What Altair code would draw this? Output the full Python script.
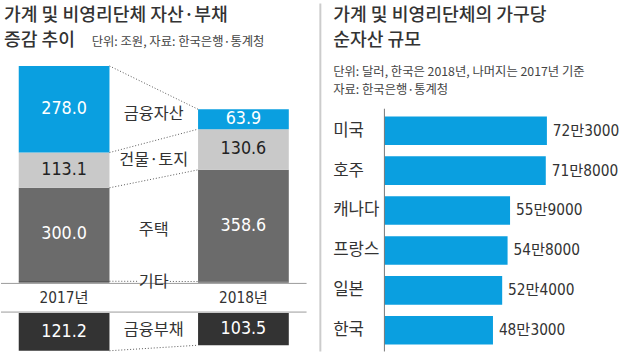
import altair as alt
import pandas as pd

# ---------------- data ----------------
years = ["2017년", "2018년"]
asset_cats = ["기타", "주택", "건물·토지", "금융자산"]          # bottom -> top
asset_2017 = [4.0, 300.0, 113.1, 278.0]
asset_2018 = [3.0, 358.6, 130.6, 63.9]
debt_label = "금융부채"
debt_vals = [121.2, 103.5]

countries = ["미국", "호주", "캐나다", "프랑스", "일본", "한국"]
net_assets = [723000, 718000, 559000, 548000, 524000, 483000]

left_title = ["가계 및 비영리단체 자산·부채", "증감 추이"]
left_sub = "단위: 조원, 자료: 한국은행·통계청"
right_title = ["가계 및 비영리단체의 가구당", "순자산 규모"]
right_sub = ["단위: 달러, 한국은 2018년, 나머지는 2017년 기준", "자료: 한국은행·통계청"]

# ---------------- styling ----------------
KR = "Noto Sans CJK KR"
NUM = "Liberation Sans Narrow, DejaVu Sans Condensed, Noto Sans CJK KR, sans-serif"
cat_color = {"기타": "#1a1a1a", "주택": "#6b6b6b", "건물·토지": "#c9c9c9", "금융자산": "#0a9fe0"}
txt_color = {"기타": "#ffffff", "주택": "#ffffff", "건물·토지": "#222222", "금융자산": "#ffffff"}
DEBT_COLOR = "#333333"

LW, LH = 310, 353          # left panel
RW, RH = 298, 353          # right panel
K = 0.316                  # px per 조원
BASE_PX = 283
GAP = 98                   # gap (in value units) between assets baseline and debt bars
BW = 0.253                 # half bar width in index units
ydom = [-(LH - BASE_PX) / K, BASE_PX / K]
xdom = [-0.352, 1.352]

xs = alt.Scale(domain=xdom, nice=False, zero=False)
ys = alt.Scale(domain=ydom, nice=False, zero=False)


def X(f, s):
    return alt.X(f, scale=s, axis=None)


def Y(f, s):
    return alt.Y(f, scale=s, axis=None)


def text_at(s, x, y, size, color, font=KR, weight="normal"):
    return alt.Chart(pd.DataFrame({"t": [s]})).mark_text(
        font=font, fontSize=size, color=color, align="left", baseline="alphabetic", fontWeight=weight
    ).encode(x=alt.value(x), y=alt.value(y), text="t:N")


# ---------------- left tables ----------------
rows = []
for i, (yr, vals) in enumerate(zip(years, [asset_2017, asset_2018])):
    c = 0.0
    for cat, v in zip(asset_cats, vals):
        rows.append(dict(year=yr, i=i, cat=cat, v=v, y0=c, y1=c + v, mid=c + v / 2,
                         xl=i - BW, xr=i + BW, fill=cat_color[cat], tcolor=txt_color[cat],
                         label=f"{v:.1f}" if cat != "기타" else ""))
        c += v
for i, (yr, v) in enumerate(zip(years, debt_vals)):
    rows.append(dict(year=yr, i=i, cat=debt_label, v=v, y0=-GAP, y1=-GAP - v, mid=-GAP - v / 2,
                     xl=i - BW, xr=i + BW, fill=DEBT_COLOR, tcolor="#ffffff", label=f"{v:.1f}"))
seg = pd.DataFrame(rows)

conn = []
a17 = seg[(seg.i == 0)].set_index("cat")
a18 = seg[(seg.i == 1)].set_index("cat")
for cat in ["금융자산", "건물·토지", "주택"]:
    conn.append(dict(xa=BW, xb=1 - BW, ya=a17.loc[cat, "y1"], yb=a18.loc[cat, "y1"]))
yA, yB = a17.loc["기타", "y1"], a18.loc["기타", "y1"]
for xa, xb in [(BW, 0.41), (0.59, 1 - BW)]:
    fa = (xa - BW) / (1 - 2 * BW)
    fb = (xb - BW) / (1 - 2 * BW)
    conn.append(dict(xa=xa, xb=xb, ya=yA + (yB - yA) * fa, yb=yA + (yB - yA) * fb))
conn.append(dict(xa=BW, xb=1 - BW, ya=a17.loc[debt_label, "y1"], yb=a18.loc[debt_label, "y1"]))
conn = pd.DataFrame(conn)

mid_lab = seg.groupby("cat")["mid"].mean().reset_index()
mid_lab["xm"] = 0.5

year_df = pd.DataFrame({"year": years, "i": [0, 1], "yy": [-GAP / 2] * 2})

base = alt.Chart(seg)
bars = base.mark_rect().encode(
    x=X("xl:Q", xs), x2="xr:Q",
    y=Y("y0:Q", ys), y2="y1:Q",
    color=alt.Color("fill:N", scale=None),
)
bar_txt = base.transform_filter("datum.label != ''").mark_text(
    font=NUM, fontSize=18, baseline="middle", align="center"
).encode(
    x=X("i:Q", xs), y=Y("mid:Q", ys),
    text="label:N", color=alt.Color("tcolor:N", scale=None),
)
conn_lines = alt.Chart(conn).mark_rule(color="#555555", strokeDash=[1, 2], strokeWidth=1).encode(
    x=X("xa:Q", xs), x2="xb:Q", y=Y("ya:Q", ys), y2="yb:Q"
)
mid_txt = alt.Chart(mid_lab).mark_text(font=KR, fontSize=16.5, color="#333333", baseline="middle").encode(
    x=X("xm:Q", xs), y=Y("mid:Q", ys), text="cat:N"
)
hlines = alt.Chart(pd.DataFrame({"hy": [-3.0, -GAP + 3.0]})).mark_rule(color="#999999", strokeWidth=1).encode(
    x=alt.value(0), x2=alt.value(LW), y=Y("hy:Q", ys)
)
year_txt = alt.Chart(year_df).mark_text(font=NUM, fontSize=15.5, color="#333333", baseline="middle").encode(
    x=X("i:Q", xs), y=Y("yy:Q", ys), text="year:N"
)
lt1 = text_at(left_title[0], 3, 18, 18.5, "#333333", weight=500)
lt2 = text_at(left_title[1], 3, 43, 18.5, "#333333", weight=500)
ls = text_at(left_sub, 92, 43, 12.5, "#444444")

left = alt.layer(bars, hlines, conn_lines, bar_txt, mid_txt, year_txt, lt1, lt2, ls).properties(width=LW, height=LH)

# ---------------- right panel ----------------
STEP, FIRST = 40.5, 129.0
HB = 0.358
rdf = pd.DataFrame({"country": countries, "v": net_assets})
rdf["i"] = list(range(len(rdf)))
rdf["i0"] = rdf["i"] - HB
rdf["i1"] = rdf["i"] + HB
rdf["zero"] = 0
rdf["label"] = [f"{v // 10000}만{v % 10000}" for v in net_assets]
PX_PER = 0.228 / 1000
ORIGIN = 66
rxs = alt.Scale(domain=[-ORIGIN / PX_PER, (RW - ORIGIN) / PX_PER], nice=False, zero=False)
rys = alt.Scale(domain=[-FIRST / STEP, (RH - FIRST) / STEP], nice=False, zero=False, reverse=True)

rb = alt.Chart(rdf)
rbars = rb.mark_rect(color="#0a9fe0").encode(
    x=X("v:Q", rxs), x2="zero:Q",
    y=Y("i0:Q", rys), y2="i1:Q",
)
rvals = rb.mark_text(font=NUM, fontSize=15.5, color="#333333", align="left", baseline="middle", dx=6).encode(
    x=X("v:Q", rxs), y=Y("i:Q", rys), text="label:N"
)
rnames = rb.mark_text(font=KR, fontSize=17, color="#333333", align="left", baseline="middle").encode(
    x=alt.value(14), y=Y("i:Q", rys), text="country:N"
)
raxis = alt.Chart(pd.DataFrame({"ax": [0], "ya": [-0.55], "yb": [(RH - FIRST) / STEP]})).mark_rule(
    color="#777777", strokeWidth=1
).encode(x=X("ax:Q", rxs), y=Y("ya:Q", rys), y2="yb:Q")
divider = alt.Chart(pd.DataFrame({"a": [0]})).mark_rule(color="#cccccc", strokeWidth=2).encode(
    x=alt.value(1), y=alt.value(0), y2=alt.value(RH)
)
rt1 = text_at(right_title[0], 14, 18, 18.5, "#333333", weight=500)
rt2 = text_at(right_title[1], 14, 43, 18.5, "#333333", weight=500)
rs1 = text_at(right_sub[0], 14, 74, 12.5, "#444444")
rs2 = text_at(right_sub[1], 14, 92, 12.5, "#444444")

right = alt.layer(rbars, divider, raxis, rvals, rnames, rt1, rt2, rs1, rs2).properties(width=RW, height=RH)

chart = alt.hconcat(left, right, spacing=12).properties(
    padding=0, background="white"
).configure_view(stroke=None)

chart.save("out.html", embed_options={"renderer": "svg", "actions": False})
